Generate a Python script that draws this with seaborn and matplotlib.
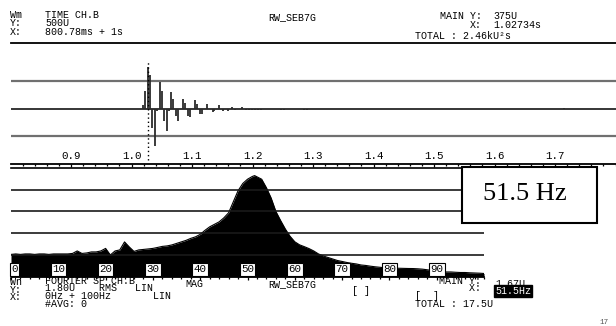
import matplotlib
matplotlib.use("Agg")
import matplotlib.pyplot as plt
from matplotlib.ticker import MultipleLocator, FixedLocator
from matplotlib.patches import Rectangle
import seaborn as sns

# ---- time record, channel B (seconds, U) ----
time_s = [1.0196, 1.0229, 1.0273, 1.0306, 1.0340, 1.0383, 1.0416, 1.0472, 1.0505,
          1.0538, 1.0581, 1.0614, 1.0659, 1.0692, 1.0736, 1.0769, 1.0845, 1.0878,
          1.0935, 1.0968, 1.1055, 1.1088, 1.1133, 1.1166, 1.1242, 1.1341, 1.1364,
          1.1440, 1.1518, 1.1596, 1.1662, 1.1716, 1.1832, 1.1898, 1.1948, 1.1997,
          1.2047, 1.2096, 1.2146, 1.2477, 1.2526, 1.2559, 1.2857, 1.2907, 1.2956,
          1.3006, 1.3055, 1.3270, 1.3320, 1.3369, 1.3419, 1.3469, 1.4047, 1.4097,
          1.4510, 1.4923, 1.7154]
amp_u = [35, 155, 375, 300, -172, -336, -25, 235, 155,
         -113, -202, -25, 150, 90, -69, -113, 90, 50,
         -69, -75, 74, 40, -45, -45, 40, -30, -25,
         30, -20, -20, 10, -10, 15, -10, -10, -10,
         -10, -10, -10, -10, -10, -8, -10, -10, -8,
         -8, -8, -8, -8, -8, -8, -8, -8, -8,
         -8, -8, 8]

# ---- Fourier spectrum, channel B (Hz, U rms) ----
freq_hz = [0, 1, 2, 3, 4, 5, 6, 7, 8, 9, 10, 11, 12, 13, 14, 15, 16, 17, 18, 19,
           20, 21, 22, 23, 24, 25, 26, 27, 28, 29, 30, 31, 32, 33, 34, 35, 36, 37,
           38, 39, 40, 41, 42, 43, 44, 45, 46, 47, 48, 49, 50, 51, 51.5, 52, 53,
           54, 55, 56, 57, 58, 59, 60, 61, 62, 63, 64, 65, 66, 67, 68, 69, 70, 71,
           72, 73, 74, 75, 76, 77, 78, 79, 80, 81, 82, 83, 84, 85, 86, 87, 88, 89,
           90, 91, 92, 93, 94, 95, 96, 97, 98, 99, 100]
mag_u = [0.372, 0.380, 0.372, 0.380, 0.380, 0.372, 0.380, 0.380, 0.372, 0.380,
         0.380, 0.380, 0.380, 0.388, 0.429, 0.388, 0.396, 0.413, 0.413, 0.429,
         0.471, 0.363, 0.429, 0.446, 0.578, 0.495, 0.421, 0.446, 0.454, 0.462,
         0.471, 0.487, 0.504, 0.512, 0.528, 0.553, 0.578, 0.603, 0.636, 0.661,
         0.702, 0.768, 0.826, 0.867, 0.908, 0.974, 1.057, 1.239, 1.420, 1.540,
         1.610, 1.655, 1.670, 1.650, 1.610, 1.470, 1.300, 1.080, 0.930, 0.790,
         0.670, 0.580, 0.530, 0.500, 0.468, 0.429, 0.380, 0.347, 0.322, 0.297,
         0.272, 0.256, 0.239, 0.226, 0.215, 0.198, 0.190, 0.178, 0.168, 0.160,
         0.152, 0.149, 0.145, 0.144, 0.142, 0.140, 0.139, 0.135, 0.129, 0.119,
         0.107, 0.099, 0.091, 0.083, 0.083, 0.078, 0.074, 0.074, 0.069, 0.066,
         0.063, 0.058]

cursor_time = 1.02734
cursor_amp = 375
peak_freq = 51.5
peak_mag = 1.67

time_ticks = [0.9, 1.0, 1.1, 1.2, 1.3, 1.4, 1.5, 1.6, 1.7]
time_labels = ["0.9", "1.0", "1.1", "1.2", "1.3", "1.4", "1.5", "1.6", "1.7"]
freq_ticks = [0, 10, 20, 30, 40, 50, 60, 70, 80, 90]
freq_labels = ["0", "10", "20", "30", "40", "50", "60", "70", "80", "90"]

sns.set_theme(style="white")
MONO = "Liberation Mono"
plt.rcParams["font.family"] = [MONO, "DejaVu Sans Mono"]
FS = 7.2
INK = "black"

W, H = 616, 326
fig = plt.figure(figsize=(W / 100, H / 100), dpi=100)
fig.patch.set_facecolor("white")


def px_rect(x0, y0, x1, y1):
    return [x0 / W, 1 - y1 / H, (x1 - x0) / W, (y1 - y0) / H]


def screen_text(x, y, s, **kw):
    """Text on the instrument screen; (x, y) = left end of the last baseline in px."""
    opts = dict(ha="left", va="baseline", fontsize=FS, color=INK,
                linespacing=0.82)
    opts.update(kw)
    return fig.text(x / W, 1 - y / H, s, **opts)


# ---------------- time trace ----------------
ax_t = fig.add_axes(px_rect(11, 43, 616, 163.5))
ax_t.set_facecolor("white")
ax_t.set_axisbelow(False)
ax_t.set_xlim(0.80078, 1.80078)
ax_t.set_ylim(-496, 591)
ax_t.vlines(time_s, 0, amp_u, color="#2b2b2b", lw=1.3, zorder=3)
ax_t.axhline(0, color="black", lw=1.1, zorder=2)
ax_t.axvline(cursor_time, ymin=0.03, ymax=0.84, color="black", lw=1.0,
             ls=(0, (1, 2)), zorder=4)
ax_t.set_yticks([-250, 250])
ax_t.yaxis.grid(True, color="#707070", lw=1.6)
ax_t.xaxis.grid(False)
ax_t.tick_params(axis="y", left=False, labelleft=False)
ax_t.xaxis.set_major_locator(FixedLocator(time_ticks))
ax_t.set_xticklabels(time_labels)
ax_t.xaxis.set_minor_locator(MultipleLocator(0.02))
ax_t.tick_params(axis="x", which="major", direction="out", length=2.4, width=0.9,
                 color="black", bottom=True, labelsize=FS + 0.6, pad=-4.2,
                 labelcolor=INK)
ax_t.tick_params(axis="x", which="minor", direction="out", length=1.4, width=0.9,
                 color="black", bottom=True)
for lab in ax_t.get_xticklabels():
    lab.set_va("bottom")
for side in ("left", "right"):
    ax_t.spines[side].set_visible(False)
for side in ("top", "bottom"):
    ax_t.spines[side].set_color("black")
    ax_t.spines[side].set_linewidth(1.3)

# ---------------- spectrum ----------------
ax_f = fig.add_axes(px_rect(11, 167.7, 484, 277))
ax_f.set_facecolor("white")
ax_f.set_axisbelow(False)
ax_f.set_xlim(0, 100)
ax_f.set_ylim(0, 1.8)
ax_f.fill_between(freq_hz, 0, mag_u, color="black", lw=0, zorder=1)
sns.lineplot(x=freq_hz, y=mag_u, color="black", lw=0.8, ax=ax_f, zorder=1.5)
ax_f.set_xlabel("")
ax_f.set_ylabel("")
ax_f.set_yticks([0.36, 0.72, 1.08, 1.44])
ax_f.yaxis.grid(True, color="#1a1a1a", lw=1.2)
ax_f.xaxis.grid(False)
ax_f.tick_params(axis="y", left=False, labelleft=False)
ax_f.xaxis.set_major_locator(FixedLocator(freq_ticks))
ax_f.set_xticklabels(freq_labels)
ax_f.xaxis.set_minor_locator(MultipleLocator(2))
ax_f.tick_params(axis="x", which="major", direction="out", length=1.8, width=0.9,
                 color="black", bottom=True, labelsize=FS + 0.6, pad=-3.6,
                 labelcolor=INK)
ax_f.tick_params(axis="x", which="minor", direction="out", length=1.2, width=0.9,
                 color="black", bottom=True)
for i, lab in enumerate(ax_f.get_xticklabels()):
    lab.set_va("bottom")
    lab.set_bbox(dict(boxstyle="square,pad=0.12", fc="white", ec="black", lw=0.8))
    lab.set_zorder(5)
    if i == 0:
        lab.set_ha("left")
for side in ("left", "right"):
    ax_f.spines[side].set_visible(False)
for side in ("top", "bottom"):
    ax_f.spines[side].set_color("black")
    ax_f.spines[side].set_linewidth(1.2)

# ---------------- peak frequency callout ----------------
fig.patches.append(Rectangle((462 / W, 1 - 223 / H), (597 - 462) / W, (223 - 167) / H,
                             transform=fig.transFigure, fc="white", ec="black",
                             lw=1.5, zorder=3))
fig.text(525 / W, 1 - 194 / H, f"{peak_freq} Hz", ha="center", va="center",
         fontsize=19, family="Liberation Serif", color="black", zorder=4)

# ---------------- screen header, time trace ----------------
screen_text(10, 35, "Wm\nY:\nX:")
screen_text(45, 35, "TIME CH.B\n500U\n800.78ms + 1s")
screen_text(268, 20.5, "RW_SEB7G")
screen_text(482, 27.8, "MAIN Y:\nX:", ha="right", multialignment="right")
screen_text(493, 27.8, f"{cursor_amp}U\n{cursor_time:.5f}s")
screen_text(415, 39.3, "TOTAL : 2.46kU²s")

# ---------------- screen footer, spectrum ----------------
FOOT = dict(linespacing=0.72)
screen_text(10, 300.3, "Wn\nY:\nX:", **FOOT)
screen_text(45, 306.8,
            "FOURIER SP CH.B\n1.80U    RMS   LIN\n0Hz + 100Hz       LIN\n#AVG: 0",
            **FOOT)
screen_text(185, 287.2, "MAG")
screen_text(268, 287.2, "RW_SEB7G")
screen_text(352, 293.7, "[ ]")
screen_text(415, 306.8, "    MAIN Y:\n         X:\n[  ]\nTOTAL : 17.5U", **FOOT)
screen_text(495, 287.2, f"{peak_mag}U")
screen_text(495, 293.7, f"{peak_freq}Hz", color="white",
            bbox=dict(boxstyle="square,pad=0.1", fc="black", ec="black"))
screen_text(599, 324.3, "17", fontsize=5.5, color="#555555")

fig.savefig("out.png", dpi=100, facecolor="white")
